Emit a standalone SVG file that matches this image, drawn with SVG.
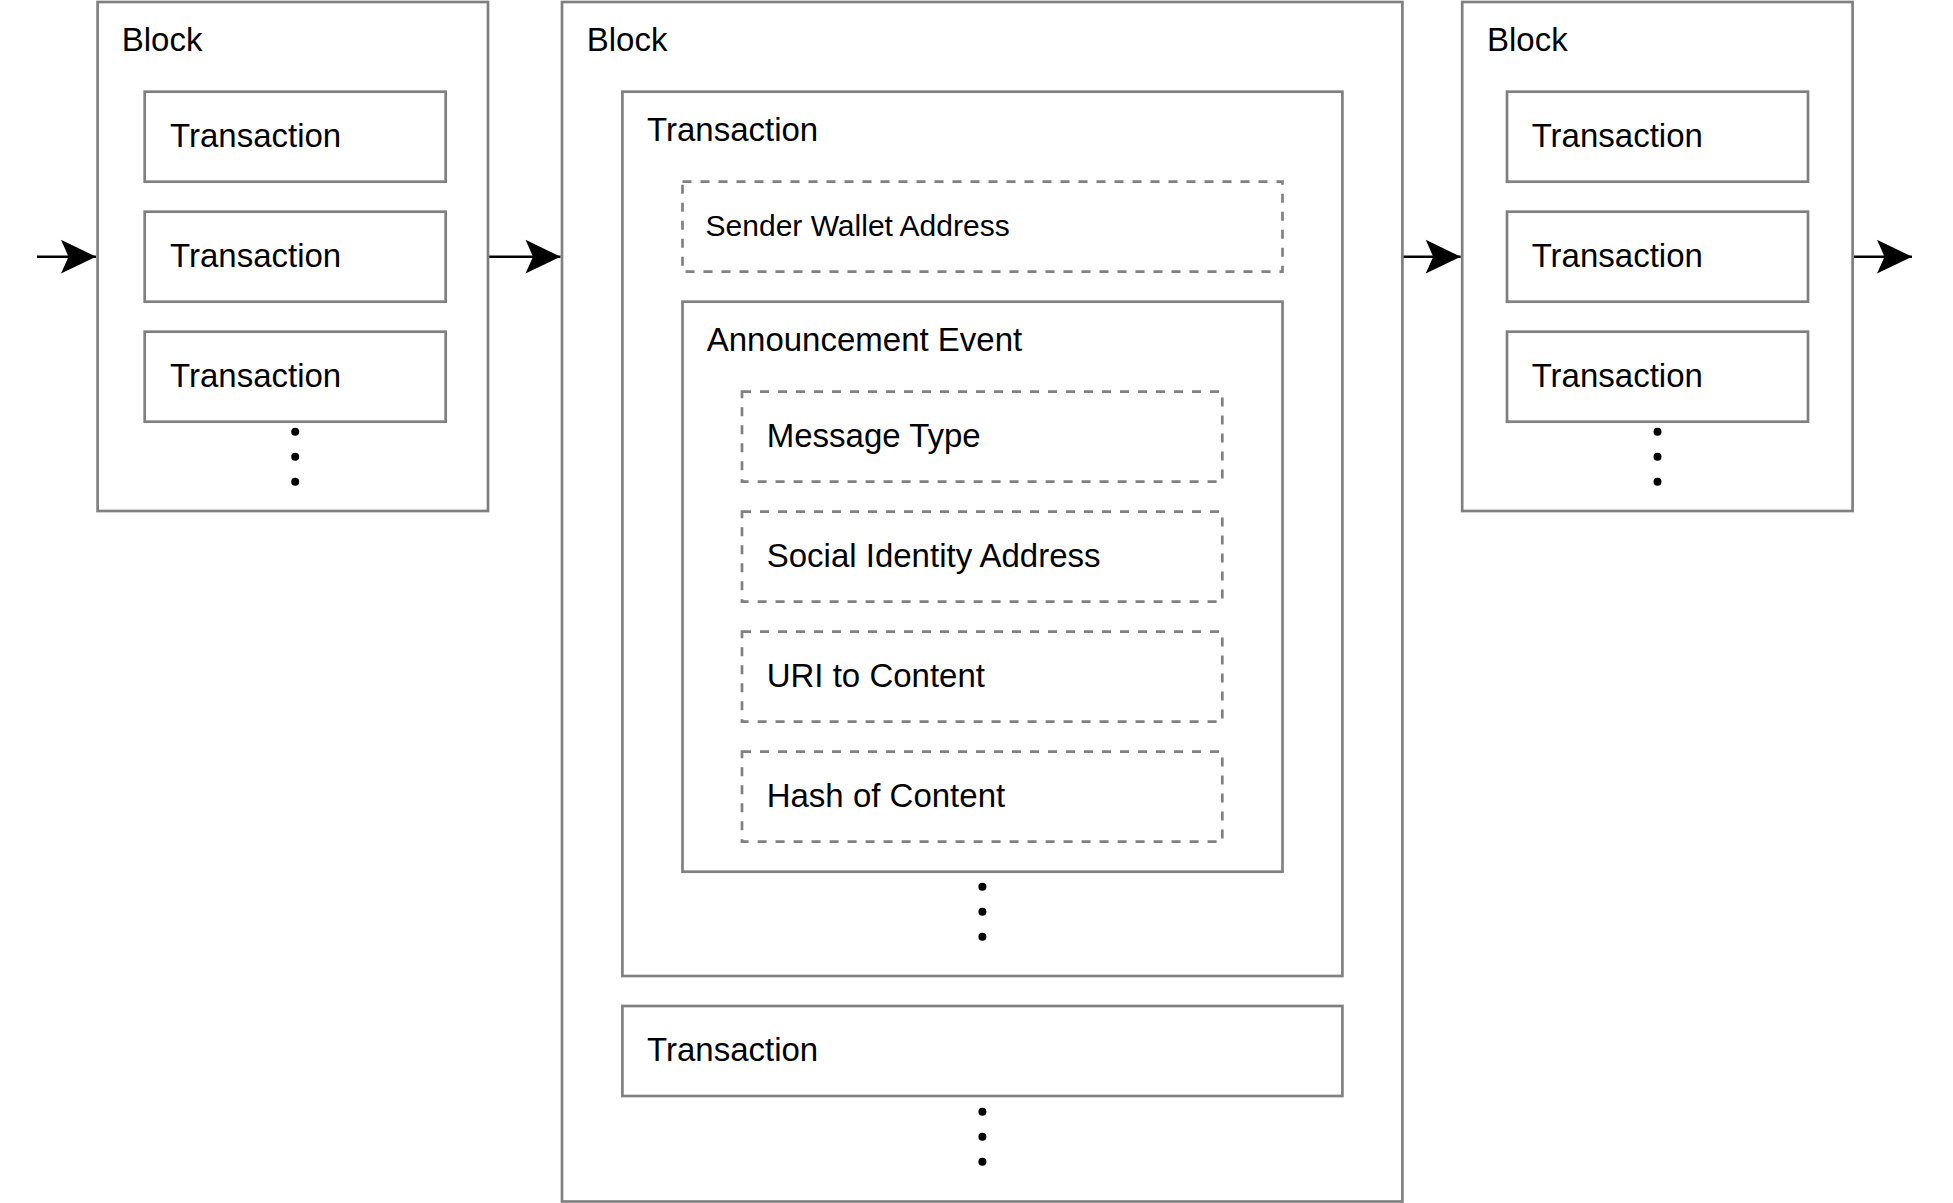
<svg xmlns="http://www.w3.org/2000/svg" width="1953" height="1203" viewBox="0 0 1953 1203">
<defs>
<style>
.box{fill:none;stroke:#808080;stroke-width:2.7}
.dash{fill:none;stroke:#808080;stroke-width:2.7;stroke-dasharray:9 9}
.t{font-family:"Liberation Sans",Arial,sans-serif;font-size:33px;fill:#000}
.ts{font-family:"Liberation Sans",Arial,sans-serif;font-size:30px;fill:#000}
.dot{fill:#000}
.conn{stroke:#000;stroke-width:2.4;fill:none}
</style>
<marker id="ah" markerUnits="userSpaceOnUse" markerWidth="40" markerHeight="40" viewBox="-30 -15 32 30" refX="0" refY="0" orient="auto">
<path d="M0,0 L-28,-13.5 L-22,0 L-28,13.5 Z" fill="#000"/>
</marker>
</defs>
<rect width="1953" height="1203" fill="#fff"/>

<g id="connectors">
<line class="conn" x1="37" y1="256.7" x2="96" y2="256.7" marker-end="url(#ah)"/>
<line class="conn" x1="489" y1="256.7" x2="560.5" y2="256.7" marker-end="url(#ah)"/>
<line class="conn" x1="1403" y1="256.7" x2="1460.7" y2="256.7" marker-end="url(#ah)"/>
<line class="conn" x1="1854" y1="256.7" x2="1912" y2="256.7" marker-end="url(#ah)"/>
</g>

<g id="block1">
<rect class="box" x="97.6" y="2" width="390.4" height="509"/>
<text class="t" x="121.7" y="50.7">Block</text>
<g id="block1-tx1"><rect class="box" x="144.7" y="91.7" width="301" height="90"/><text class="t" x="170" y="146.7">Transaction</text></g>
<g id="block1-tx2"><rect class="box" x="144.7" y="211.7" width="301" height="90"/><text class="t" x="170" y="266.7">Transaction</text></g>
<g id="block1-tx3"><rect class="box" x="144.7" y="331.7" width="301" height="90"/><text class="t" x="170" y="386.7">Transaction</text></g>
<circle class="dot" cx="295.2" cy="431.7" r="4"/>
<circle class="dot" cx="295.2" cy="456.7" r="4"/>
<circle class="dot" cx="295.2" cy="481.7" r="4"/>
</g>

<g id="block2">
<rect class="box" x="562" y="2" width="840.4" height="1199.5"/>
<text class="t" x="586.7" y="50.7">Block</text>
<g id="block2-tx1">
<rect class="box" x="622.4" y="91.7" width="720" height="884.3"/>
<text class="t" x="647" y="140.7">Transaction</text>
<g id="sender"><rect class="dash" x="682.5" y="181.7" width="600" height="90"/><text class="ts" x="705.6" y="236">Sender Wallet Address</text></g>
<g id="announcement">
<rect class="box" x="682.5" y="301.7" width="600" height="570"/>
<text class="t" x="706.7" y="351">Announcement Event</text>
<g id="msgtype"><rect class="dash" x="742" y="391.7" width="480.3" height="90"/><text class="t" x="766.7" y="446.7">Message Type</text></g>
<g id="socialid"><rect class="dash" x="742" y="511.7" width="480.3" height="90"/><text class="t" x="766.7" y="566.7">Social Identity Address</text></g>
<g id="uri"><rect class="dash" x="742" y="631.7" width="480.3" height="90"/><text class="t" x="766.7" y="686.7">URI to Content</text></g>
<g id="hash"><rect class="dash" x="742" y="751.7" width="480.3" height="90"/><text class="t" x="766.7" y="806.7">Hash of Content</text></g>
</g>
<circle class="dot" cx="982.4" cy="886.7" r="4"/>
<circle class="dot" cx="982.4" cy="911.7" r="4"/>
<circle class="dot" cx="982.4" cy="936.7" r="4"/>
</g>
<g id="block2-tx2"><rect class="box" x="622.4" y="1006" width="720" height="90"/><text class="t" x="647" y="1061">Transaction</text></g>
<circle class="dot" cx="982.4" cy="1111.7" r="4"/>
<circle class="dot" cx="982.4" cy="1136.7" r="4"/>
<circle class="dot" cx="982.4" cy="1161.7" r="4"/>
</g>

<g id="block3">
<rect class="box" x="1462.2" y="2" width="390.4" height="509"/>
<text class="t" x="1487" y="50.7">Block</text>
<g id="block3-tx1"><rect class="box" x="1507" y="91.7" width="301" height="90"/><text class="t" x="1531.7" y="146.7">Transaction</text></g>
<g id="block3-tx2"><rect class="box" x="1507" y="211.7" width="301" height="90"/><text class="t" x="1531.7" y="266.7">Transaction</text></g>
<g id="block3-tx3"><rect class="box" x="1507" y="331.7" width="301" height="90"/><text class="t" x="1531.7" y="386.7">Transaction</text></g>
<circle class="dot" cx="1657.5" cy="431.7" r="4"/>
<circle class="dot" cx="1657.5" cy="456.7" r="4"/>
<circle class="dot" cx="1657.5" cy="481.7" r="4"/>
</g>
</svg>
